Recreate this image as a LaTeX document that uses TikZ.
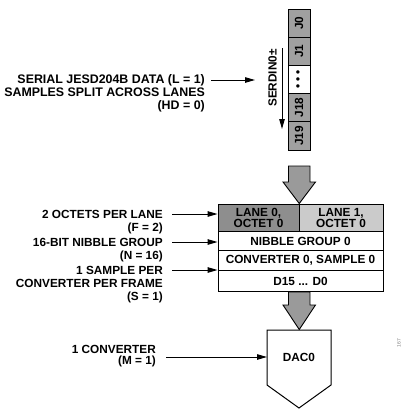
\documentclass[tikz,border=0pt]{standalone}
\usepackage{fontspec}
\setmainfont{Liberation Sans}
\usetikzlibrary{arrows.meta}
\definecolor{jgray}{HTML}{A0A0A0}
\definecolor{darkcell}{HTML}{8E8E8E}
\definecolor{lightcell}{HTML}{CBCBCB}
\definecolor{arrowgray}{HTML}{9A9A9A}
\begin{document}
\begin{tikzpicture}[x=1pt,y=-1pt,
  lab/.style={font=\fontsize{11.8}{13}\selectfont\bfseries, align=right, inner sep=0, anchor=north east},
  txt/.style={font=\fontsize{11.8}{11}\selectfont\bfseries, align=center, inner sep=0},
  cell/.style={draw, line width=0.9pt, txt},
  jcell/.style={cell, fill=jgray, rotate=90, minimum width=28.2pt, minimum height=22pt},
  arr/.style={-{Triangle[length=10pt,width=5.5pt]}, line width=1pt},
  fat/.style={draw, line width=0.9pt, fill=arrowgray, line join=miter}]
\useasboundingbox (0,0) rectangle (403,410);

% serial strip
\node[jcell] (j0) at (299,23.1) {J0};
\node[jcell] (j1) at (299,51.3) {J1};
\node[jcell, fill=white] (jd) at (299,79.5) {• • •};
\node[jcell] (j18) at (299,107.7) {J18};
\node[jcell] (j19) at (299,135.9) {J19};

% SERDIN label with arrow
\node[txt, rotate=90] (serdin) at (272.5,78) {SERDIN0±};
\coordinate (sdtop) at (282,48);
\coordinate (sdbot) at (282,129);
\draw[arr] (sdtop) -- (sdbot);

% left label 1
\node[lab, font=\fontsize{12.4}{13}\selectfont\bfseries] (l1) at (205,74) {SERIAL JESD204B DATA (L = 1)\\SAMPLES SPLIT ACROSS LANES\\(HD = 0)};
\coordinate (a1s) at (211,80);
\coordinate (a1e) at (255,80);
\draw[arr] (a1s) -- (a1e);

% fat arrow 1
\draw[fat] (288.5,166) -- (310,166) -- (310,182) -- (315.5,182) -- (299.25,203.5) -- (283,182) -- (288.5,182) -- cycle;

% block
\node[cell, fill=darkcell, minimum width=81pt, minimum height=28pt] (lane0) at (258.5,218) {LANE 0,\\OCTET 0};
\node[cell, fill=lightcell, minimum width=84pt, minimum height=28pt] (lane1) at (341,218) {LANE 1,\\OCTET 0};
\node[cell, fill=white, minimum width=165pt, minimum height=18.3pt] (nib) at (300.5,241) {NIBBLE GROUP 0};
\node[cell, fill=white, minimum width=165pt, minimum height=20.7pt] (conv) at (300.5,260.5) {CONVERTER 0, SAMPLE 0};
\node[cell, fill=white, minimum width=165pt, minimum height=21pt] (dbits) at (300.5,281.3) {D15 ... D0};

% left labels group
\node[lab] (l2) at (163,209.8) {2 OCTETS PER LANE\\(F = 2)};
\node[lab] (l3) at (163,237.8) {16-BIT NIBBLE GROUP\\(N = 16)};
\node[lab] (l4) at (163,265.8) {1 SAMPLE PER\\CONVERTER PER FRAME\\(S = 1)};
\coordinate (a2) at (172,214);
\coordinate (a3) at (172,242);
\coordinate (a4) at (172,270);
\draw[arr] (a2) -- (a2 -| lane0.west);
\draw[arr] (a3) -- (a3 -| nib.west);
\draw[arr] (a4) -- (a4 -| conv.west);

% fat arrow 2
\draw[fat] (288.5,292) -- (310,292) -- (310,305) -- (315.5,305) -- (299.25,329.5) -- (283,305) -- (288.5,305) -- cycle;

% DAC
\draw[line width=1pt, fill=white] (267,330) -- (331,330) -- (331,385) -- (299,408) -- (267,385) -- cycle;
\node[txt] (dac) at (299,357) {DAC0};
\coordinate (dacw) at (267,357);
\node[lab, font=\fontsize{11.8}{11.5}\selectfont\bfseries] (l5) at (156,345) {1 CONVERTER\\(M = 1)};
\coordinate (a5) at (166,357);
\draw[arr] (a5) -- (dacw);

% figure number
\node[font=\fontsize{5}{5}\selectfont, text=gray, rotate=90, inner sep=0] (fig) at (399,343) {167};
\end{tikzpicture}
\end{document}
